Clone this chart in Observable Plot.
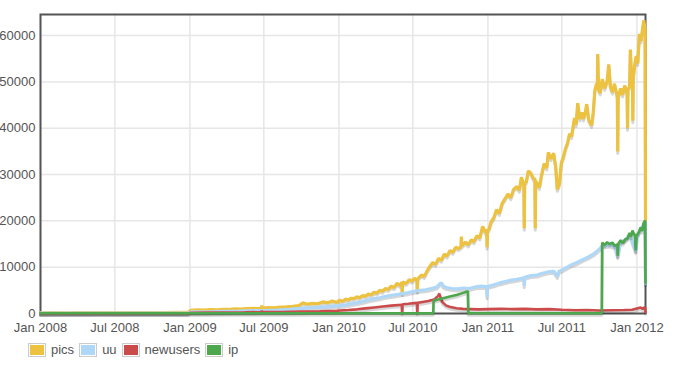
<!DOCTYPE html>
<html>
<head>
<meta charset="utf-8">
<script src="https://cdn.jsdelivr.net/npm/d3@7"></script>
<script src="https://cdn.jsdelivr.net/npm/@observablehq/plot@0.6"></script>
<style>
  html, body { margin: 0; padding: 0; background: #fff; }
  #wrap { position: relative; width: 673px; height: 370px; font-family: "Liberation Sans", Arial, Helvetica, sans-serif; }
  #legend { position: absolute; left: 28px; top: 343px; display: flex; align-items: center; font-size: 13px; color: #545454; }
  .sw { border: 1px solid #ccc; padding: 1px; margin-right: 5px; }
  .sw div { width: 14px; height: 10px; }
  .lab { margin-right: 5px; line-height: 14px; }
</style>
</head>
<body>
<div id="wrap"></div>
<script>
// ---- data ----
const seriesNames = ["pics", "uu", "newusers", "ip"];
const seriesColors = ["#edc240", "#afd8f8", "#cb4b4b", "#4da74d"];
const yTicks = [0, 10000, 20000, 30000, 40000, 50000, 60000];
const xTickLabels = ["2008-01-01","2008-07-01","2009-01-01","2009-07-01","2010-01-01","2010-07-01","2011-01-01","2011-07-01","2012-01-01"];

const pics = [
["2008-01-01",150],["2008-02-01",170],["2008-03-01",160],["2008-04-01",180],["2008-05-01",170],["2008-06-01",190],
["2008-07-01",180],["2008-08-01",200],["2008-09-01",190],["2008-10-01",210],["2008-11-01",200],["2008-12-01",230],["2008-12-28",250],
["2009-01-03",700],["2009-01-20",780],["2009-02-05",740],["2009-02-20",850],["2009-03-08",800],["2009-03-22",900],
["2009-04-05",870],["2009-04-20",980],["2009-05-05",950],["2009-05-20",1060],["2009-06-05",1100],["2009-06-20",1050],
["2009-06-25",1150],["2009-06-26",1700],["2009-06-27",1150],["2009-07-12",1250],["2009-07-26",1200],["2009-08-10",1380],["2009-08-25",1450],
["2009-09-10",1550],["2009-09-25",1700],["2009-10-05",2300],["2009-10-15",2000],["2009-10-28",2200],["2009-11-10",2100],
["2009-11-22",2500],["2009-12-05",2300],["2009-12-15",2700],["2009-12-27",2400],
["2010-01-03",2900],["2010-01-10",2600],["2010-01-17",3100],["2010-01-24",2900],["2010-01-31",3300],["2010-02-07",3200],
["2010-02-14",3600],["2010-02-21",3400],["2010-02-28",3900],["2010-03-07",3700],["2010-03-14",4200],["2010-03-21",4000],
["2010-03-28",4600],["2010-04-04",4400],["2010-04-11",5000],["2010-04-18",4800],["2010-04-25",5400],["2010-05-02",5200],
["2010-05-09",5900],["2010-05-16",5600],["2010-05-23",6500],["2010-05-30",6100],["2010-06-04",6700],["2010-06-05",4300],
["2010-06-06",6800],["2010-06-15",6500],["2010-06-22",7300],["2010-06-29",7000],["2010-07-05",7600],["2010-07-11",7200],
["2010-07-12",4800],["2010-07-13",7500],["2010-07-22",8300],["2010-07-29",8000],["2010-08-05",9200],["2010-08-12",10200],
["2010-08-19",11000],["2010-08-26",10600],["2010-09-02",11900],["2010-09-09",11500],["2010-09-16",12800],["2010-09-23",12400],
["2010-09-30",13600],["2010-10-07",13200],["2010-10-14",14300],["2010-10-21",14000],["2010-10-27",14400],["2010-10-28",16600],["2010-10-29",14600],
["2010-11-07",15400],["2010-11-14",14800],["2010-11-21",15900],["2010-11-28",15500],["2010-12-05",16800],["2010-12-12",16300],
["2010-12-19",18800],["2010-12-26",17500],["2010-12-29",18000],["2010-12-30",14300],["2010-12-31",18200],["2011-01-03",18000],
["2011-01-09",19800],["2011-01-16",20800],["2011-01-22",22400],["2011-01-29",21600],["2011-02-05",23800],["2011-02-12",24800],
["2011-02-19",25800],["2011-02-26",25000],["2011-03-05",26800],["2011-03-12",27400],["2011-03-19",26600],["2011-03-24",29400],
["2011-03-30",27800],["2011-03-31",18400],["2011-04-01",28200],["2011-04-05",28400],["2011-04-10",30800],["2011-04-17",30200],["2011-04-23",29000],
["2011-04-26",29200],["2011-04-27",18400],["2011-04-28",28600],["2011-05-02",28000],["2011-05-07",27200],["2011-05-13",30200],["2011-05-19",32400],["2011-05-25",31400],
["2011-05-29",34800],["2011-06-04",33400],["2011-06-11",34600],["2011-06-16",31800],["2011-06-20",26800],["2011-06-25",28000],
["2011-06-30",32600],["2011-07-05",33800],["2011-07-10",35600],["2011-07-15",36800],["2011-07-20",38800],["2011-07-25",38200],
["2011-08-01",42200],["2011-08-05",40800],["2011-08-09",45400],["2011-08-14",42000],["2011-08-19",43400],["2011-08-23",42000],
["2011-08-28",43600],["2011-08-31",45200],["2011-09-05",41800],["2011-09-12",40600],["2011-09-16",43400],["2011-09-20",48200],
["2011-09-24",49600],["2011-09-26",48800],["2011-09-27",56000],["2011-09-29",48400],["2011-10-03",47600],["2011-10-08",50600],["2011-10-14",48600],
["2011-10-20",50200],["2011-10-24",53800],["2011-10-28",49000],["2011-11-02",47800],["2011-11-07",49600],["2011-11-14",46800],
["2011-11-15",35000],["2011-11-16",46600],["2011-11-22",48600],["2011-11-27",47200],["2011-12-02",49200],["2011-12-08",47600],
["2011-12-09",40000],["2011-12-10",48400],["2011-12-14",49000],["2011-12-16",57000],["2011-12-19",50400],["2011-12-21",49800],["2011-12-22",41600],["2011-12-23",51000],
["2011-12-26",53200],["2011-12-30",55600],["2012-01-03",54000],["2012-01-07",60400],["2012-01-11",58800],["2012-01-15",61600],["2012-01-18",63300],
["2012-01-21",61000],["2012-01-22",20000]
];

const uu = [
["2008-01-01",80],["2008-03-01",90],["2008-05-01",85],["2008-07-01",100],["2008-09-01",95],["2008-11-01",110],["2008-12-28",120],
["2009-01-03",350],["2009-02-01",380],["2009-03-01",420],["2009-04-01",480],["2009-05-01",520],["2009-06-01",600],
["2009-07-01",650],["2009-08-01",760],["2009-09-01",880],["2009-10-01",1100],["2009-11-01",1250],["2009-12-01",1450],
["2010-01-03",1700],["2010-01-17",1800],["2010-01-31",2100],["2010-02-14",2300],["2010-02-28",2600],["2010-03-14",2900],
["2010-03-28",3200],["2010-04-11",3400],["2010-04-25",3700],["2010-05-09",3900],["2010-05-23",4100],["2010-06-06",4300],
["2010-06-20",4500],["2010-07-04",4800],["2010-07-18",5000],["2010-08-01",5100],["2010-08-15",5400],["2010-08-28",5700],
["2010-09-05",6400],["2010-09-09",6600],["2010-09-14",5900],["2010-09-21",5600],["2010-10-05",5400],["2010-10-19",5300],
["2010-11-02",5500],["2010-11-16",5400],["2010-11-30",5700],["2010-12-14",5900],["2010-12-29",5800],["2010-12-30",3600],
["2010-12-31",5800],["2011-01-16",6200],["2011-01-30",6600],["2011-02-13",6900],["2011-02-27",7200],["2011-03-13",7400],
["2011-03-30",7700],["2011-03-31",6000],["2011-04-01",7800],["2011-04-17",8200],["2011-05-01",8300],["2011-05-15",8700],
["2011-05-29",9000],["2011-06-12",9100],["2011-06-20",8000],["2011-06-24",9100],["2011-07-10",9800],["2011-07-24",10500],
["2011-08-07",11000],["2011-08-21",11600],["2011-09-04",12200],["2011-09-18",12900],["2011-10-02",14000],["2011-10-07",14500],
["2011-10-14",14600],["2011-10-26",14800],["2011-11-08",14400],["2011-11-15",12300],["2011-11-22",15500],["2011-12-03",15800],
["2011-12-14",17100],["2011-12-29",13400],["2012-01-02",16600],["2012-01-10",18300],["2012-01-17",19100],["2012-01-21",19800],
["2012-01-22",6400]
];

const newusers = [
["2008-01-01",30],["2008-04-01",40],["2008-07-01",35],["2008-10-01",50],["2008-12-28",60],
["2009-01-03",150],["2009-02-15",180],["2009-04-01",220],["2009-05-15",260],["2009-06-25",300],["2009-06-26",600],
["2009-06-27",300],["2009-08-15",340],["2009-10-01",400],["2009-11-15",460],["2009-12-27",560],
["2010-01-03",650],["2010-01-24",750],["2010-02-14",900],["2010-03-07",1100],["2010-03-28",1300],["2010-04-18",1500],
["2010-05-09",1700],["2010-06-04",1900],["2010-06-05",200],["2010-06-06",2000],["2010-06-20",2100],["2010-07-11",2300],
["2010-07-12",200],["2010-07-13",2300],["2010-07-25",2500],["2010-08-08",2700],["2010-08-22",3000],["2010-09-01",3800],
["2010-09-04",4300],["2010-09-08",3200],["2010-09-12",2400],["2010-09-21",1700],["2010-10-01",1400],["2010-10-16",1150],
["2010-11-01",1000],["2010-11-20",950],["2010-12-10",900],["2011-01-01",950],["2011-02-01",1000],["2011-03-01",950],
["2011-04-01",1000],["2011-05-01",900],["2011-06-01",950],["2011-07-01",800],["2011-08-01",700],["2011-09-01",750],
["2011-10-01",650],["2011-11-01",700],["2011-12-01",750],["2011-12-20",800],["2012-01-10",1300],["2012-01-15",1000],
["2012-01-21",1400],["2012-01-22",300]
];

const ip = [
["2008-01-01",60],["2010-08-20",60],["2010-08-21",2800],["2010-09-04",3100],["2010-09-18",3400],["2010-10-02",3700],
["2010-10-16",4000],["2010-10-30",4400],["2010-11-13",4800],["2010-11-14",60],["2011-10-07",60],["2011-10-08",15300],
["2011-10-14",14800],["2011-10-20",15400],["2011-10-26",15000],["2011-11-02",15300],["2011-11-08",14600],["2011-11-14",14900],["2011-11-15",12500],
["2011-11-16",15000],["2011-11-22",15800],["2011-11-28",15200],["2011-12-03",16000],["2011-12-09",16200],["2011-12-14",17400],
["2011-12-18",16600],["2011-12-21",17900],["2011-12-27",16800],["2011-12-29",13600],["2011-12-31",16800],["2012-01-06",17600],
["2012-01-10",18600],["2012-01-14",17800],["2012-01-17",19400],["2012-01-21",20100],["2012-01-22",6600]
];

// ---- build chart ----
const parse = s => new Date(s + "T00:00:00Z");
const allSeries = [pics, uu, newusers, ip].map((arr, i) =>
  arr.map(([d, v]) => ({date: parse(d), value: v, series: seriesNames[i]})));
const xTicks = xTickLabels.map(parse);
const widths = [3.2, 3.2, 2.6, 2.6];

const marks = [
  Plot.ruleY(yTicks, {stroke: "#e6e6e6", strokeWidth: 1.5}),
  Plot.ruleX(xTicks, {stroke: "#e6e6e6", strokeWidth: 1.5}),
  Plot.frame({stroke: "#545454", strokeWidth: 2})
];
allSeries.forEach((rows, i) => {
  marks.push(Plot.line(rows, {x: "date", y: "value", stroke: "#000", strokeOpacity: 0.16, strokeWidth: 3, dy: 2}));
  marks.push(Plot.line(rows, {x: "date", y: "value", stroke: seriesColors[i], strokeWidth: widths[i], strokeLinejoin: "miter"}));
});
marks.push(Plot.axisX(xTicks, {tickSize: 0, tickPadding: 9, tickFormat: d3.utcFormat("%b %Y")}));
marks.push(Plot.axisY(yTicks, {tickSize: 0, tickPadding: 5, tickFormat: d => String(d)}));

const chart = Plot.plot({
  width: 673,
  height: 335,
  marginLeft: 40,
  marginRight: 28,
  marginTop: 14,
  marginBottom: 22,
  style: {fontFamily: '"Liberation Sans", Arial, Helvetica, sans-serif', fontSize: "13px", color: "#545454", background: "#fff", overflow: "visible"},
  x: {type: "utc", domain: [parse("2008-01-01"), parse("2012-01-22")], label: null},
  y: {domain: [0, 64550], label: null},
  marks
});

const wrap = document.getElementById("wrap");
wrap.appendChild(chart);

const legend = document.createElement("div");
legend.id = "legend";
seriesNames.forEach((name, i) => {
  const sw = document.createElement("div");
  sw.className = "sw";
  const inner = document.createElement("div");
  inner.style.background = seriesColors[i];
  sw.appendChild(inner);
  const lab = document.createElement("span");
  lab.className = "lab";
  lab.textContent = name;
  legend.appendChild(sw);
  legend.appendChild(lab);
});
wrap.appendChild(legend);
</script>
</body>
</html>
